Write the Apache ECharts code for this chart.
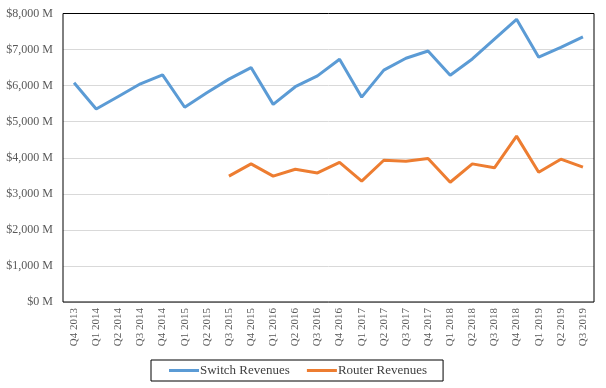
<!DOCTYPE html>
<html><head><meta charset="utf-8">
<script src="https://cdn.jsdelivr.net/npm/echarts@6/dist/echarts.min.js"></script>
<style>html,body{margin:0;padding:0;background:#fff}#c{width:606px;height:388px}</style>
</head><body><div id="c"></div>
<script>
const categories = ["Q4 2013","Q1 2014","Q2 2014","Q3 2014","Q4 2014","Q1 2015","Q2 2015","Q3 2015","Q4 2015","Q1 2016","Q2 2016","Q3 2016","Q4 2016","Q1 2017","Q2 2017","Q3 2017","Q4 2017","Q1 2018","Q2 2018","Q3 2018","Q4 2018","Q1 2019","Q2 2019","Q3 2019"];
const switchRevenues = [6080,5350,5700,6050,6300,5400,5800,6180,6500,5480,5970,6270,6730,5680,6430,6760,6960,6290,6740,7290,7840,6790,7060,7350];
const routerRevenues = [null,null,null,null,null,null,null,3490,3830,3490,3680,3580,3870,3350,3930,3900,3980,3320,3830,3720,4600,3600,3960,3740];
const yTicks = [0,1000,2000,3000,4000,5000,6000,7000,8000];

const font = "Liberation Serif";
const chart = echarts.init(document.getElementById('c'));
chart.setOption({
  animation:false,
  grid:{left:63,right:12,top:13.5,bottom:86,show:true,borderColor:'#000',borderWidth:1,z:3},
  legend:{
    data:['Switch Revenues','Router Revenues'],
    left:151, top:360,
    borderColor:'#000', borderWidth:1, padding:[4,16,4,18],
    icon:'rect', itemWidth:30, itemHeight:3, itemGap:17,
    textStyle:{fontFamily:font,fontSize:13,color:'#404040',padding:[0,0,0,-4]}
  },
  xAxis:{
    type:'category', data:categories, boundaryGap:true,
    axisLine:{show:false}, axisTick:{show:false},
    axisLabel:{rotate:90,fontFamily:font,fontSize:11,color:'#595959',margin:6,interval:0}
  },
  yAxis:{
    type:'value', min:0, max:8000, interval:1000,
    axisLine:{show:false}, axisTick:{show:false},
    splitLine:{lineStyle:{color:'#d9d9d9',width:1}},
    axisLabel:{fontFamily:font,fontSize:12,color:'#595959',margin:10,
      formatter:v=>'$'+v.toLocaleString('en-US')+' M'}
  },
  series:[
    {name:'Switch Revenues',type:'line',data:switchRevenues,symbol:'none',
     lineStyle:{color:'#5b9bd5',width:3},itemStyle:{color:'#5b9bd5'}},
    {name:'Router Revenues',type:'line',data:routerRevenues,symbol:'none',
     lineStyle:{color:'#ed7d31',width:3},itemStyle:{color:'#ed7d31'}}
  ]
});
</script></body></html>
